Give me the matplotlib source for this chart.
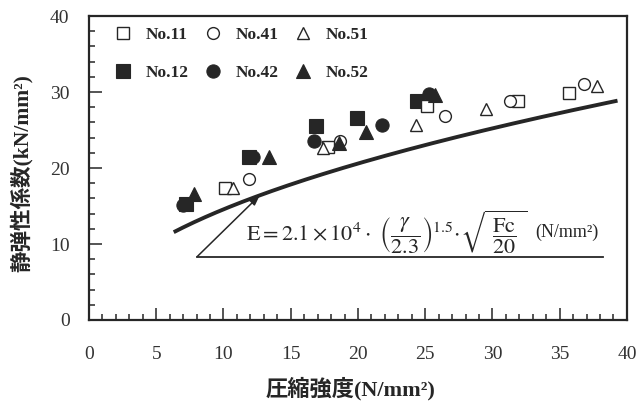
import numpy as np
import matplotlib
matplotlib.use("Agg")
import matplotlib.pyplot as plt
from matplotlib.ticker import MultipleLocator

# ------------------------------------------------------------
# 圧縮強度 - 静弾性係数 の関係 (試験体別プロット + 推定式)
# ------------------------------------------------------------

# 試験体ごとの測定値 (x: 圧縮強度 N/mm2, y: 静弾性係数 kN/mm2)
no11_fc = [10.1, 17.8, 25.1, 31.9, 35.7]
no11_e = [17.4, 22.8, 28.1, 28.8, 29.9]
no41_fc = [11.9, 18.7, 26.5, 31.3, 36.8]
no41_e = [18.5, 23.6, 26.8, 28.8, 31.0]
no51_fc = [10.7, 17.4, 24.3, 29.5, 37.8]
no51_e = [17.4, 22.7, 25.7, 27.8, 30.8]
no12_fc = [7.2, 11.9, 16.9, 19.9, 24.4]
no12_e = [15.3, 21.4, 25.5, 26.6, 28.8]
no42_fc = [7.0, 12.2, 16.7, 21.8, 25.3]
no42_e = [15.1, 21.4, 23.6, 25.7, 29.8]
no52_fc = [7.8, 13.4, 18.6, 20.6, 25.7]
no52_e = [16.6, 21.4, 23.3, 24.7, 29.6]

# 推定式 E = 2.1e4 (γ/2.3)^1.5 sqrt(Fc/20)  [N/mm2]
gamma = 2.27
fc_min, fc_max = 6.3, 39.3
fc_note = 12.7          # 式の引出し線が指す圧縮強度

x_ticks = [0, 5, 10, 15, 20, 25, 30, 35, 40]
y_ticks = [0, 10, 20, 30, 40]


def model_e(fc):
    # kN/mm2 で返す
    return 2.1e4 * (gamma / 2.3) ** 1.5 * np.sqrt(np.asarray(fc) / 20.0) / 1000.0


plt.rcParams['font.family'] = ['Liberation Serif', 'Noto Sans CJK JP', 'DejaVu Sans']
plt.rcParams['mathtext.fontset'] = 'stix'

ink = '#262626'
fig = plt.figure(figsize=(6.43, 4.01), dpi=100)
ax = fig.add_axes([0.1384, 0.202, 0.8366, 0.758])

# 推定式の曲線
fc_line = np.linspace(fc_min, fc_max, 200)
ax.plot(fc_line, model_e(fc_line), color=ink, lw=2.8, solid_capstyle='butt', zorder=2)

# 測定値 (塗りつぶし -> 白抜きの順で重ねる)
ms_open, ms_fill = 8.5, 9.5
series = [
    (no12_fc, no12_e, 's', True, 'No.12'),
    (no42_fc, no42_e, 'o', True, 'No.42'),
    (no11_fc, no11_e, 's', False, 'No.11'),
    (no51_fc, no51_e, '^', False, 'No.51'),
    (no41_fc, no41_e, 'o', False, 'No.41'),
    (no52_fc, no52_e, '^', True, 'No.52'),
]
handles = {}
for fc, e, mk, filled, name in series:
    if filled:
        h, = ax.plot(fc, e, ls='none', marker=mk, ms=ms_fill, mfc=ink, mec=ink,
                     mew=0.8, label=name, zorder=4)
    else:
        h, = ax.plot(fc, e, ls='none', marker=mk, ms=ms_open, mfc='white', mec=ink,
                     mew=1.0, label=name, zorder=4)
    handles[name] = h

order = ['No.11', 'No.12', 'No.41', 'No.42', 'No.51', 'No.52']
leg = ax.legend([handles[k] for k in order], order, ncol=3, loc='upper left',
                bbox_to_anchor=(0.047, 0.965), frameon=False, borderpad=0,
                borderaxespad=0, handlelength=1.0, handletextpad=0.8,
                columnspacing=0.9, labelspacing=1.25,
                prop={'family': 'Liberation Serif', 'weight': 'bold', 'size': 12.5})
for t in leg.get_texts():
    t.set_color(ink)

# 式の引出し線と下線
x0, y0 = 8.05, 8.35
x1 = 38.2
ax.plot([x0, x1], [y0, y0], color=ink, lw=1.3, zorder=3)
ax.annotate('', xy=(fc_note, model_e(fc_note)), xytext=(x0, y0),
            arrowprops=dict(arrowstyle='-|>,head_length=0.6,head_width=0.22',
                            color=ink, lw=1.1, shrinkA=0, shrinkB=0), zorder=3)

ax.text(11.7, 11.6,
        r'$\mathrm{E} = 2.1 \times 10^{4} \cdot \ \left( \dfrac{\gamma}{2.3} \right)^{1.5}'
        r'\!\cdot\! \sqrt{\ \dfrac{\mathrm{Fc}}{20}\ }$',
        fontsize=16, color=ink, ha='left', va='center')
ax.text(33.2, 11.6, '(N/mm²)', fontsize=13, color=ink, ha='left', va='center')

# 軸
ax.set_xlim(0, 40)
ax.set_ylim(0, 40)
ax.xaxis.set_major_locator(MultipleLocator(5))
ax.xaxis.set_minor_locator(MultipleLocator(1))
ax.yaxis.set_major_locator(MultipleLocator(10))
ax.yaxis.set_minor_locator(MultipleLocator(2))
ax.set_xticks(x_ticks)
ax.set_yticks(y_ticks)
ax.tick_params(which='both', direction='in', top=False, right=False,
               color=ink, width=1.1)
ax.tick_params(which='major', length=9)
ax.tick_params(which='minor', length=4.5)
ax.tick_params(axis='x', which='major', pad=19, labelsize=14, labelcolor='#333333')
ax.tick_params(axis='y', which='major', pad=14, labelsize=14, labelcolor='#333333')
for sp in ax.spines.values():
    sp.set_linewidth(1.6)
    sp.set_color(ink)

ax.set_xlabel('圧縮強度(N/mm²)', fontsize=16, fontweight='bold', color=ink,
              va='center')
ax.xaxis.set_label_coords(0.487, -0.227)
ax.set_ylabel('静弹性係数(kN/mm²)', fontsize=15.5, fontweight='bold', color=ink,
              va='center')
ax.yaxis.set_label_coords(-0.125, 0.484)

fig.savefig('out.png', dpi=100)
